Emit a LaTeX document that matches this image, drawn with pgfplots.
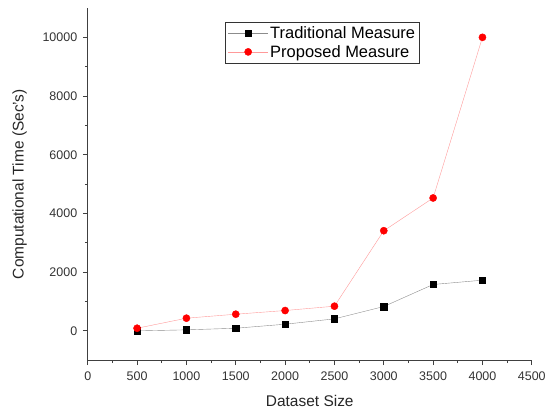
\documentclass[border={9pt 0pt 0pt 0pt}]{standalone}
\usepackage{pgfplots}
\pgfplotsset{compat=1.18}
\usepackage{fontspec}
\setmainfont{Liberation Sans}

\begin{document}
\begin{tikzpicture}
  \begin{axis}[
      scale only axis,
      width=445pt, height=353pt,
      xmin=0, xmax=4500,
      ymin=-1000, ymax=11000,
      xtick={0,500,...,4500},
      ytick={0,2000,...,10000},
      minor x tick num=1,
      minor y tick num=1,
      scaled ticks=false,
      axis lines=left,
      axis line style={-, thick, black!75},
      tick align=outside,
      major tick length=5pt,
      minor tick length=3pt,
      tick style={thick, black!75},
      /pgf/number format/.cd, 1000 sep={}, assume math mode=true,
      /pgfplots/.cd,
      tick label style={font=\fontsize{12.5}{14}\selectfont, black!80},
      xticklabel style={yshift=-3pt},
      yticklabel style={xshift=-2pt},
      xlabel={Dataset Size},
      ylabel={Computational Time (Sec's)},
      xlabel shift=8pt,
      ylabel shift=9pt,
      label style={font=\fontsize{15.5}{17}\selectfont, black!85},
      legend style={at={(0.31,0.96)}, anchor=north west,
                    font=\fontsize{16.5}{18}\selectfont,
                    draw=black!80, inner sep=2.5pt,
                    row sep=1pt},
      legend cell align=left,
      legend image code/.code={
        \draw[mark repeat=2, mark phase=2]
          plot coordinates {(0cm,0cm) (0.7cm,0cm) (1.4cm,0cm)};},
      after end axis/.code={\path (rel axis cs:0,1) ++(0,8pt);},
    ]
    % Traditional measure
    \addplot[color=black!45, mark=square*, mark size=3.2pt,
             mark options={fill=black, draw=black}]
      coordinates {(500,0)(1000,35)(1500,90)(2000,227)(2500,409)
                   (3000,830)(3500,1580)(4000,1727)};
    \addlegendentry{Traditional Measure}
    % Proposed measure
    \addplot[color=red!40, mark=*, mark size=3.6pt,
             mark options={fill=red, draw=red}]
      coordinates {(500,90)(1000,432)(1500,568)(2000,693)(2500,841)
                   (3000,3412)(3500,4527)(4000,10000)};
    \addlegendentry{Proposed Measure}
  \end{axis}
\end{tikzpicture}
\end{document}
